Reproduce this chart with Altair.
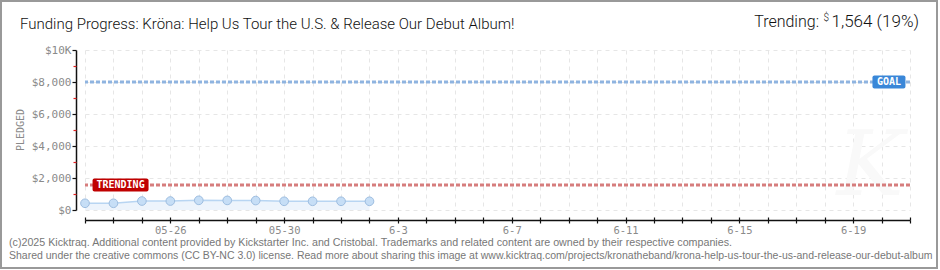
import altair as alt
import pandas as pd

# Daily pledged totals for the campaign so far
dates = ["2025-05-23", "2025-05-24", "2025-05-25", "2025-05-26", "2025-05-27",
         "2025-05-28", "2025-05-29", "2025-05-30", "2025-05-31", "2025-06-01",
         "2025-06-02"]
pledged = [420, 420, 560, 560, 605, 600, 590, 545, 545, 545, 545]

goal = 8000
trending = 1564
trending_pct = 19

# Timeline range and labelled ticks
start_date = "2025-05-23"
end_date = "2025-06-21"
tick_label_dates = ["2025-05-26", "2025-05-30", "2025-06-03", "2025-06-07",
                    "2025-06-11", "2025-06-15", "2025-06-19"]
tick_labels = ["05-26", "05-30", "6-3", "6-7", "6-11", "6-15", "6-19"]

y_major = [0, 2000, 4000, 6000, 8000, 10000]
y_minor = [1000, 3000, 5000, 7000, 9000]

# Where the GOAL / TRENDING tags sit along the timeline
goal_tag_date = "2025-06-20T06:15:00Z"
trend_tag_date = "2025-05-24T06:00:00Z"

title_text = "Funding Progress: Kröna: Help Us Tour the U.S. & Release Our Debut Album!"
footer_1 = ("(c)2025 Kicktraq. Additional content provided by Kickstarter Inc. and Cristobal. "
            "Trademarks and related content are owned by their respective companies.")
footer_2 = ("Shared under the creative commons (CC BY-NC 3.0) license. Read more about sharing "
            "this image at www.kicktraq.com/projects/kronatheband/krona-help-us-tour-the-us-and-release-our-debut-album")


def ms(d):
    return int(pd.Timestamp(d, tz="UTC").value // 10**6)


day_ticks = [ms(d) for d in pd.date_range(start_date, end_date, freq="D")]
label_expr = " : ".join(
    f"utcFormat(datum.value, '%Y-%m-%d') == '{d}' ? '{t}'"
    for d, t in zip(tick_label_dates, tick_labels)
) + " : ''"

df = pd.DataFrame({"date": dates, "pledged": pledged})
lines_df = pd.DataFrame({"value": [goal, trending], "kind": ["goal", "trending"]})
goal_tag = pd.DataFrame({"date": [goal_tag_date], "value": [goal], "label": ["GOAL"]})
trend_tag = pd.DataFrame({"date": [trend_tag_date], "value": [trending], "label": ["TRENDING"]})
one = pd.DataFrame({"k": [0]})

xscale = alt.Scale(type="utc", domain=[ms(start_date), ms(end_date)], nice=False)
yscale = alt.Scale(domain=[0, 10000], nice=False, zero=True)

LABEL_FONT = "DejaVu Sans Mono"
GRAY = "#8a8a8a"

x_axis = alt.Axis(
    values=day_ticks, labelExpr=label_expr, title=None, offset=10,
    domainColor="#111", domainWidth=1.5, tickColor="#111", tickSize=3, tickWidth=1.2,
    labelFont=LABEL_FONT, labelFontSize=10.5, labelColor=GRAY, labelPadding=2,
    labelOverlap=False, labelBound=False, labelFlush=False,
    grid=True, gridColor="#e6e6e6", gridDash=[4, 4],
)
x_axis_up = alt.Axis(
    values=day_ticks, labels=False, title=None, offset=7, orient="bottom",
    domain=False, tickColor="#111", tickSize=3, tickWidth=1.2, grid=False,
)
y_axis = alt.Axis(
    values=y_major, title=None, offset=9,
    labelExpr="datum.value == 10000 ? '$10K' : '$' + format(datum.value, ',')",
    domainColor="#111", domainWidth=1.5, tickColor="#111", tickSize=4, tickWidth=1.2,
    labelFont=LABEL_FONT, labelFontSize=11, labelColor=GRAY, labelPadding=1,
    grid=True, gridColor="#e6e6e6", gridDash=[4, 4],
)
y_axis_minor = alt.Axis(
    values=y_minor, labels=False, title=None, offset=9, orient="left",
    domain=False, tickColor="#e02020", tickSize=3, tickWidth=1.2, grid=False,
)

frame = alt.Chart(one).mark_rect(fillOpacity=0, stroke="#999999", strokeWidth=2).encode(
    x=alt.value(-84), x2=alt.value(852), y=alt.value(-49), y2=alt.value(218)
)

watermark = alt.Chart(one).mark_text(
    text="K", font="DejaVu Serif", fontSize=90, fontStyle="italic", color="#f9f9f9"
).encode(x=alt.value(785), y=alt.value(118))

area = alt.Chart(df).mark_area(color="#edf4fc").encode(
    x=alt.X("date:T", scale=xscale, axis=x_axis),
    y=alt.Y("pledged:Q", scale=yscale, axis=y_axis),
)
line = alt.Chart(df).mark_line(color="#b8d5f2", strokeWidth=1.5).encode(
    x=alt.X("date:T", scale=xscale, axis=None),
    y=alt.Y("pledged:Q", scale=yscale, axis=None),
)
points = alt.Chart(df).mark_point(
    shape="circle", filled=True, size=75, fill="#c6def6", stroke="#9dbde0",
    strokeWidth=1, opacity=1
).encode(
    x=alt.X("date:T", scale=xscale, axis=None),
    y=alt.Y("pledged:Q", scale=yscale, axis=None),
)
extra_axes = alt.Chart(df).mark_point(opacity=0).encode(
    x=alt.X("date:T", scale=xscale, axis=x_axis_up),
    y=alt.Y("pledged:Q", scale=yscale, axis=y_axis_minor),
)

ref_lines = alt.Chart(lines_df).mark_rule(strokeWidth=3, strokeDash=[4, 2]).encode(
    y=alt.Y("value:Q", scale=yscale, axis=None),
    color=alt.Color("kind:N", scale=alt.Scale(domain=["goal", "trending"],
                                               range=["#8fb4e0", "#d67d7d"]), legend=None),
)


def tag(data, box_width, box_color):
    box = alt.Chart(data).mark_rect(
        width=box_width, height=13, cornerRadius=2, color=box_color
    ).encode(
        x=alt.X("date:T", scale=xscale, axis=None),
        y=alt.Y("value:Q", scale=yscale, axis=None),
    )
    txt = alt.Chart(data).mark_text(
        font=LABEL_FONT, fontSize=10, fontWeight="bold", color="white", baseline="middle"
    ).encode(
        x=alt.X("date:T", scale=xscale, axis=None),
        y=alt.Y("value:Q", scale=yscale, axis=None),
        text="label:N",
    )
    return [box, txt]


pledged_title = alt.Chart(one).mark_text(
    text="PLEDGED", font=LABEL_FONT, fontSize=10, color=GRAY, angle=270
).encode(x=alt.value(-64), y=alt.value(80))

title = alt.Chart(one).mark_text(
    text=title_text, font="Roboto", fontSize=15, fontWeight=300, color="#111",
    align="left", baseline="middle"
).encode(x=alt.value(-65), y=alt.value(-26))

trend_num = alt.Chart(one).mark_text(
    text=f"{trending:,} ({trending_pct}%)", font="Roboto", fontSize=17, fontWeight=300,
    color="#111", align="right", baseline="middle"
).encode(x=alt.value(834), y=alt.value(-28))
trend_dollar = alt.Chart(one).mark_text(
    text="$", font="Roboto", fontSize=10, fontWeight=300, color="#111",
    align="right", baseline="middle"
).encode(x=alt.value(744), y=alt.value(-32))
trend_label = alt.Chart(one).mark_text(
    text="Trending:", font="Roboto", fontSize=16, fontWeight=300, color="#111",
    align="right", baseline="middle"
).encode(x=alt.value(734), y=alt.value(-28))

foot1 = alt.Chart(one).mark_text(
    text=footer_1, font="Liberation Sans", fontSize=10.7, color="#777",
    align="left", baseline="middle"
).encode(x=alt.value(-76), y=alt.value(193))
foot2 = alt.Chart(one).mark_text(
    text=footer_2, font="Liberation Sans", fontSize=10.5, color="#777",
    align="left", baseline="middle"
).encode(x=alt.value(-76), y=alt.value(206))

chart = alt.layer(
    frame, watermark, area, line, ref_lines, points, extra_axes,
    *tag(goal_tag, 33, "#3a87d8"), *tag(trend_tag, 56, "#c00000"),
    pledged_title, title, trend_label, trend_dollar, trend_num, foot1, foot2,
).resolve_scale(
    x="shared", y="shared", color="independent"
).resolve_axis(
    x="independent", y="independent"
).properties(
    width=825, height=160,
    autosize=alt.AutoSizeParams(type="none"),
    padding={"left": 85, "top": 50, "right": 30, "bottom": 60},
    background="white",
).configure_view(stroke=None)

chart.save("out.html", embed_options={"renderer": "svg", "actions": False})
